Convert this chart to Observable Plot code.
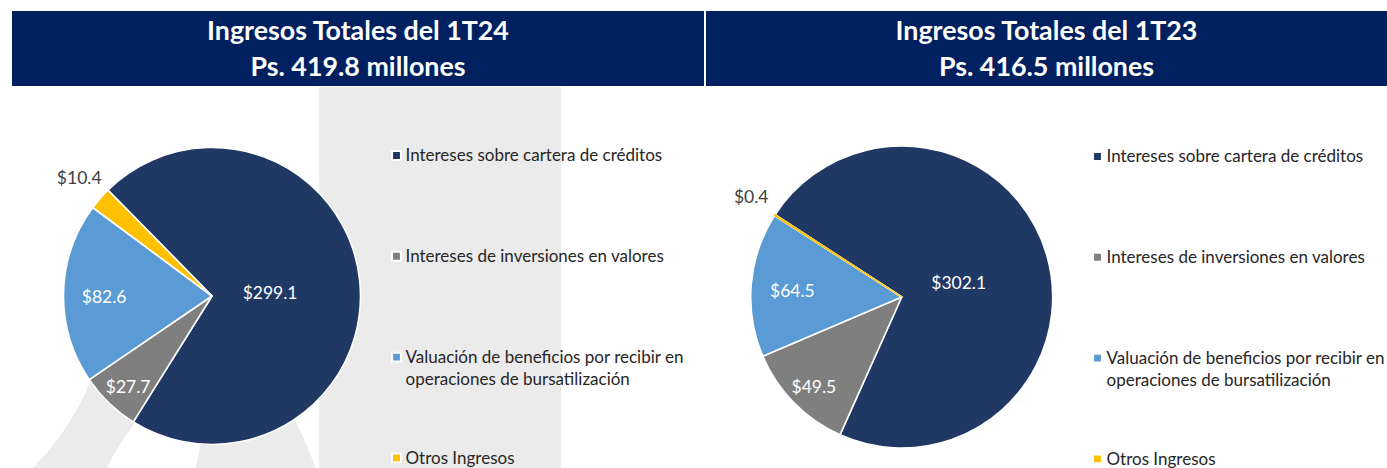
<!DOCTYPE html>
<html>
<head>
<meta charset="utf-8">
<script src="https://cdn.jsdelivr.net/npm/d3@7"></script>
<script src="https://cdn.jsdelivr.net/npm/@observablehq/plot@0.6"></script>
<style>
  html, body { margin: 0; padding: 0; background: #fff; }
  #wrap { position: relative; width: 1387px; height: 468px; overflow: hidden; font-family: Lato, "Open Sans", sans-serif; }
  .hdr { position: absolute; top: 11px; height: 75px; background: #002060; color: #fff; font-weight: bold; font-size: 26.8px; text-align: center; }
  .hdr div { position: absolute; left: 0; right: 0; line-height: 32px; white-space: nowrap; }
  .panel { position: absolute; top: 86px; }
  #deco { position: absolute; left: 0; top: 0; }
</style>
</head>
<body>
<div id="wrap">
  <svg id="deco" width="1387" height="468">
    <rect x="319" y="87" width="242" height="381" fill="#ebebeb"></rect>
    <path d="M33 468 C60 440 80 410 95 370 L150 400 C130 430 115 450 107 468 Z" fill="#ebebeb"></path>
    <path d="M196 468 C198 455 200 445 205 430 L290 410 C300 430 310 450 315 468 Z" fill="#ebebeb"></path>
  </svg>
  <div class="hdr" id="h0" style="left:12px;width:692px;"></div>
  <div class="hdr" id="h1" style="left:706px;width:681px;"></div>
  <div class="panel" id="p0" style="left:0px;"></div>
  <div class="panel" id="p1" style="left:700px;"></div>
</div>
<script>
// ---- data ----
const categories = [
  "Intereses sobre cartera de créditos",
  "Intereses de inversiones en valores",
  "Valuación de beneficios por recibir en operaciones de bursatilización",
  "Otros Ingresos"
];
const legendLabels = [
  "Intereses sobre cartera de créditos",
  "Intereses de inversiones en valores",
  "Valuación de beneficios por recibir en\noperaciones de bursatilización",
  "Otros Ingresos"
];
const periods = ["1T24", "1T23"];
const totals = [419.8, 416.5];
const values1T24 = [299.1, 27.7, 82.6, 10.4];
const values1T23 = [302.1, 49.5, 64.5, 0.4];
const colors = ["#203864", "#7f7f7f", "#5b9bd5", "#ffc000"];

// ---- layout / style (not data) ----
const labelK = [0.39, 0.82, 0.73, 1.19];
const layouts = [
  {width: 700, cx: 212, cy: 210, r: 148.5, startDeg: -44.5, legendX: 396, legendTop: 69, outDy: -2},
  {width: 687, cx: 201.7, cy: 211, r: 151, startDeg: -57, legendX: 397, legendTop: 70, outDy: -3}
];
const legendStep = 100.8;
const H = 382;

function header(i) {
  const el = document.getElementById("h" + i);
  const l1 = document.createElement("div");
  l1.style.top = "3px";
  l1.textContent = "Ingresos Totales del " + periods[i];
  const l2 = document.createElement("div");
  l2.style.top = "39px";
  l2.textContent = "Ps. " + totals[i].toFixed(1) + " millones";
  el.append(l1, l2);
}

function panel(values, L) {
  const rows = categories.map((c, i) => ({category: c, value: values[i]}));
  const a0 = L.startDeg * Math.PI / 180;
  const arcs = d3.pie().sort(null).value(d => d.value).startAngle(a0).endAngle(a0 + 2 * Math.PI)(rows);
  const R = L.r;
  const labels = arcs.map((a, i) => {
    const m = (a.startAngle + a.endAngle) / 2;
    const k = labelK[i];
    return {x: L.cx + k * R * Math.sin(m), y: L.cy - k * R * Math.cos(m),
            text: "$" + a.data.value.toFixed(1), inside: k < 1};
  });
  const legendRows = legendLabels.map((t, i) => ({category: categories[i], text: t, y: L.legendTop + i * legendStep}));
  const arcGen = d3.arc().innerRadius(0).outerRadius(R);
  return Plot.plot({
    width: L.width, height: H, margin: 0,
    x: {type: "identity", axis: null},
    y: {type: "identity", axis: null},
    color: {domain: categories, range: colors},
    style: {background: "transparent", fontFamily: "Lato, 'Open Sans', sans-serif", overflow: "visible"},
    marks: [
      (index, scales) => {
        const g = d3.create("svg:g").attr("transform", `translate(${L.cx},${L.cy})`);
        g.selectAll("path.slice").data(arcs).join("path")
          .attr("class", "slice")
          .attr("d", arcGen)
          .attr("fill", d => scales.color(d.data.category))
          .attr("stroke", "#fff")
          .attr("stroke-width", 1.6)
          .attr("stroke-linejoin", "round");
        // very thin slices: repaint their fill over the white borders so they stay visible
        g.selectAll("path.thin").data(arcs.filter(d => d.endAngle - d.startAngle < 0.02)).join("path")
          .attr("class", "thin")
          .attr("d", arcGen)
          .attr("fill", d => scales.color(d.data.category))
          .attr("stroke", d => scales.color(d.data.category))
          .attr("stroke-width", 1.4);
        return g.node();
      },
      Plot.text(labels.filter(d => d.inside), {x: "x", y: "y", dy: 3, text: "text", fill: "#fff", fontSize: 17.5}),
      Plot.text(labels.filter(d => !d.inside), {x: "x", y: "y", dy: L.outDy, text: "text", fill: "#404040", fontSize: 17.5}),
      Plot.dot(legendRows, {x: L.legendX, y: "y", symbol: "square", r: 5, fill: "category", stroke: "#fff", strokeWidth: 2}),
      Plot.text(legendRows, {x: L.legendX + 9, y: "y", dy: -10, text: "text", textAnchor: "start", lineAnchor: "top",
                             lineHeight: 1.3, fill: "#262626", fontSize: 17})
    ]
  });
}

header(0); header(1);
document.getElementById("p0").append(panel(values1T24, layouts[0]));
document.getElementById("p1").append(panel(values1T23, layouts[1]));
</script>
</body>
</html>
